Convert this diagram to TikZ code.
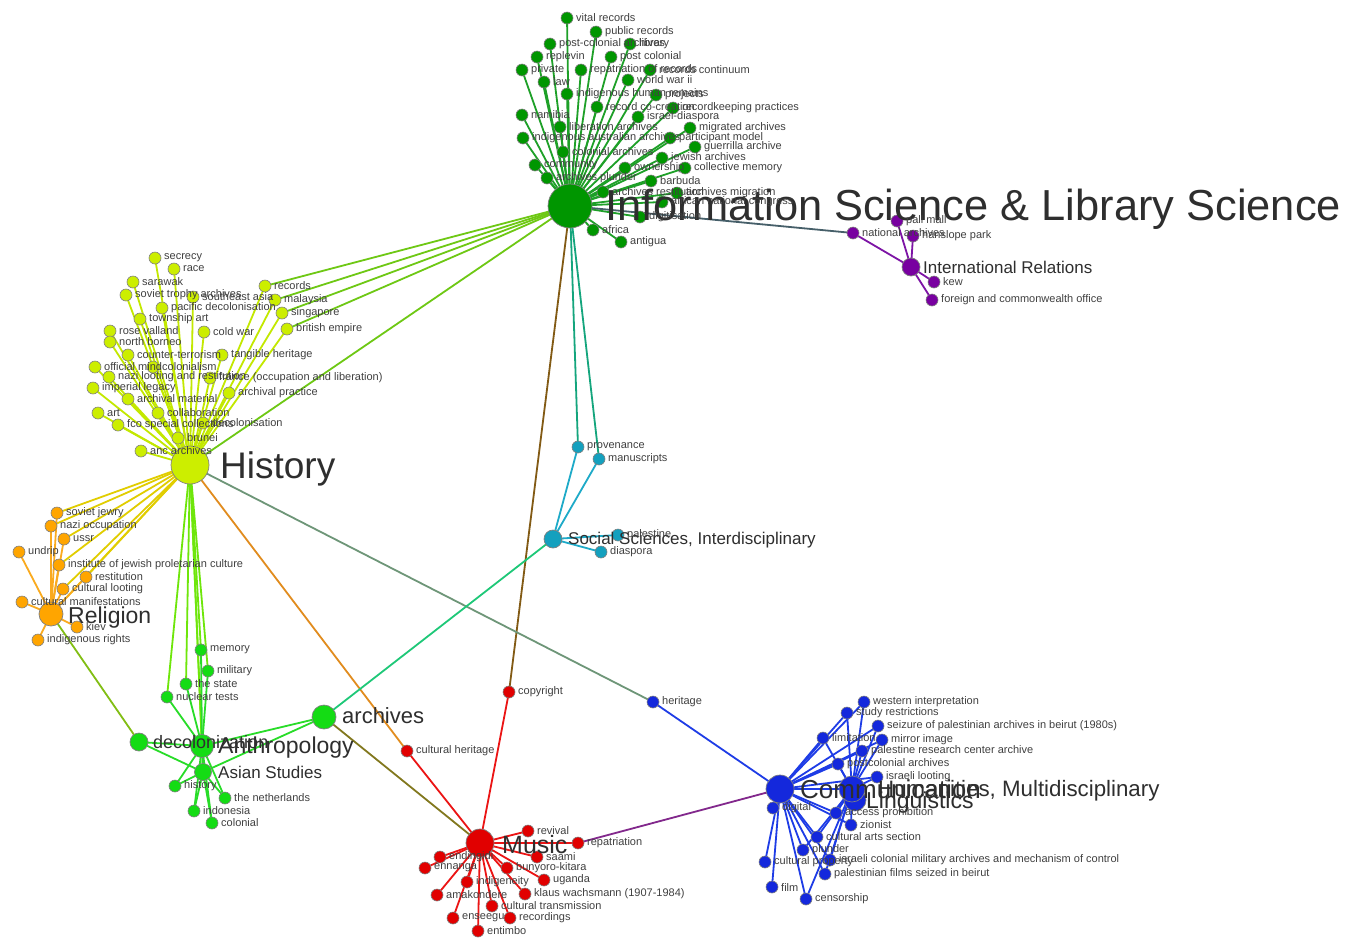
\documentclass[tikz,border=0pt]{standalone}
\usepackage{fontspec}
\setmainfont{Liberation Sans}
\definecolor{cIS}{RGB}{0,150,0}
\definecolor{cHi}{RGB}{204,238,0}
\definecolor{cRe}{RGB}{255,165,0}
\definecolor{cAn}{RGB}{20,220,20}
\definecolor{cMu}{RGB}{225,0,0}
\definecolor{cCo}{RGB}{20,40,220}
\definecolor{cSS}{RGB}{20,160,190}
\definecolor{cIR}{RGB}{120,0,160}
\definecolor{eIS}{RGB}{30,160,40}
\definecolor{eHi}{RGB}{195,232,0}
\definecolor{eRe}{RGB}{250,170,30}
\definecolor{eAn}{RGB}{40,220,40}
\definecolor{eMu}{RGB}{235,20,20}
\definecolor{eCo}{RGB}{30,60,230}
\definecolor{eSS}{RGB}{30,170,200}
\definecolor{eIR}{RGB}{125,20,165}
\definecolor{eISHi}{RGB}{110,200,20}
\definecolor{eISIR}{RGB}{70,95,105}
\definecolor{eISMu}{RGB}{130,90,20}
\definecolor{eISSS}{RGB}{20,165,125}
\definecolor{eHiRe}{RGB}{225,205,0}
\definecolor{eHiAn}{RGB}{110,230,10}
\definecolor{eHiMu}{RGB}{225,140,30}
\definecolor{eHiCo}{RGB}{110,150,120}
\definecolor{eReAn}{RGB}{130,190,20}
\definecolor{eAnSS}{RGB}{30,200,120}
\definecolor{eAnMu}{RGB}{130,120,30}
\definecolor{eMuCo}{RGB}{130,40,140}
\pgfdeclarelayer{bg}
\pgfdeclarelayer{edges}
\pgfdeclarelayer{labs}
\pgfsetlayers{bg,edges,main,labs}
\tikzset{
  kwn/.style={circle,minimum size=12pt,inner sep=0pt,draw=black!50,line width=0.6pt},
  kwl/.style={anchor=west,inner sep=0pt,text=black!75,font=\fontsize{11}{12}\selectfont},
  hubn/.style={circle,inner sep=0pt,draw=black!50,line width=0.7pt},
  hubl/.style={anchor=base west,inner sep=0pt,text=black!82},
  lnk/.style={line width=1.8pt}
}
\newcommand\kw[5]{\node[kwn,fill=#4] (#1) at (#2,#3) {};\begin{pgfonlayer}{labs}\node[kwl] (#1-t) at (#2+9,#3) {#5};\end{pgfonlayer}}
\newcommand\hub[9]{\node[hubn,minimum size=#4pt,fill=#5] (#1) at (#2,#3) {};\begin{pgfonlayer}{labs}\node[hubl,font=\fontsize{#8}{#8}\selectfont] (#1-t) at (#6,#7) {#9};\end{pgfonlayer}}
\begin{document}
\begin{tikzpicture}[x=1pt,y=-1pt]
\useasboundingbox (0,0) rectangle (1349,938);
\begin{pgfonlayer}{bg}\fill[white] (0,0) rectangle (1349,938);\end{pgfonlayer}
% ---------- hubs
\hub{IS}{570}{206}{44}{cIS}{605}{220}{43.4}{Information Science \& Library Science}
\hub{Hist}{190}{465}{38}{cHi}{220}{478}{37}{History}
\hub{Rel}{51}{614}{24}{cRe}{68}{623}{23}{Religion}
\hub{IRh}{911}{267}{18}{cIR}{923}{273}{17}{International Relations}
\hub{SS}{553}{539}{18}{cSS}{568}{544}{17}{Social Sciences, Interdisciplinary}
\hub{Arch}{324}{717}{24}{cAn}{342}{723}{22}{archives}
\hub{Deco}{139}{742}{18}{cAn}{153}{748}{18}{decolonization}
\hub{Anth}{202}{746}{23}{cAn}{218}{753}{23}{Anthropology}
\hub{Asia}{203}{772}{17}{cAn}{218}{778}{17}{Asian Studies}
\hub{Mus}{480}{843}{28}{cMu}{502}{853}{25}{Music}
\hub{Comm}{780}{789}{28}{cCo}{800}{798}{26}{Communication}
\hub{Ling}{855}{800}{22}{cCo}{866}{808}{23}{Linguistics}
\hub{Hum}{852}{789}{26}{cCo}{878}{796}{22.3}{Humanities, Multidisciplinary}
% ---------- information science cluster
\kw{vr}{567}{18}{cIS}{vital records}
\kw{pr}{596}{32}{cIS}{public records}
\kw{pca}{550}{44}{cIS}{post-colonial archives}
\kw{lib}{630}{44}{cIS}{library}
\kw{rep}{537}{57}{cIS}{replevin}
\kw{pc}{611}{57}{cIS}{post colonial}
\kw{pri}{522}{70}{cIS}{private}
\kw{ror}{581}{70}{cIS}{repatriation of records}
\kw{rc}{650}{70}{cIS}{records continuum}
\kw{law}{544}{82}{cIS}{law}
\kw{ww}{628}{80}{cIS}{world war ii}
\kw{ihr}{567}{94}{cIS}{indigenous human remains}
\kw{proj}{656}{95}{cIS}{projects}
\kw{rcc}{597}{107}{cIS}{record co-creation}
\kw{rkp}{673}{108}{cIS}{recordkeeping practices}
\kw{isd}{638}{117}{cIS}{israel-diaspora}
\kw{nam}{522}{115}{cIS}{namibia}
\kw{lia}{560}{127}{cIS}{liberation archives}
\kw{mig}{690}{128}{cIS}{migrated archives}
\kw{iaa}{523}{138}{cIS}{indigenous australian archives}
\kw{pm}{670}{138}{cIS}{participant model}
\kw{gue}{695}{147}{cIS}{guerrilla archive}
\kw{cola}{563}{152}{cIS}{colonial archives}
\kw{jew}{662}{158}{cIS}{jewish archives}
\kw{com}{535}{165}{cIS}{community}
\kw{own}{625}{168}{cIS}{ownership}
\kw{cm}{685}{168}{cIS}{collective memory}
\kw{apl}{547}{178}{cIS}{archives plunder}
\kw{bar}{651}{181}{cIS}{barbuda}
\kw{ares}{603}{192}{cIS}{archives restitution}
\kw{amig}{677}{193}{cIS}{archives migration}
\kw{anc2}{662}{202}{cIS}{african national congress}
\kw{dig2}{640}{217}{cIS}{digitisation}
\kw{afr}{593}{230}{cIS}{africa}
\kw{ant}{621}{242}{cIS}{antigua}
% ---------- history cluster
\kw{sec}{155}{258}{cHi}{secrecy}
\kw{race}{174}{269}{cHi}{race}
\kw{sar}{133}{282}{cHi}{sarawak}
\kw{sta}{126}{295}{cHi}{soviet trophy archives}
\kw{sea}{193}{297}{cHi}{southeast asia}
\kw{rec}{265}{286}{cHi}{records}
\kw{mal}{275}{300}{cHi}{malaysia}
\kw{pd}{162}{308}{cHi}{pacific decolonisation}
\kw{sin}{282}{313}{cHi}{singapore}
\kw{ta}{140}{319}{cHi}{township art}
\kw{be}{287}{329}{cHi}{british empire}
\kw{rv}{110}{331}{cHi}{rose valland}
\kw{cw}{204}{332}{cHi}{cold war}
\kw{nb}{110}{342}{cHi}{north borneo}
\kw{ct}{128}{355}{cHi}{counter-terrorism}
\kw{th}{222}{355}{cHi}{tangible heritage}
\kw{om}{95}{367}{cHi}{official mind}
\kw{col}{153}{367}{cHi}{colonialism}
\kw{nlr}{109}{377}{cHi}{nazi looting and restitution}
\kw{fol}{210}{378}{cHi}{france (occupation and liberation)}
\kw{il}{93}{388}{cHi}{imperial legacy}
\kw{ap}{229}{393}{cHi}{archival practice}
\kw{am}{128}{399}{cHi}{archival material}
\kw{art}{98}{413}{cHi}{art}
\kw{coll}{158}{413}{cHi}{collaboration}
\kw{fco}{118}{425}{cHi}{fco special collections}
\kw{deco}{203}{423}{cHi}{decolonisation}
\kw{bru}{178}{438}{cHi}{brunei}
\kw{anc}{141}{451}{cHi}{anc archives}
% ---------- religion cluster
\kw{sj}{57}{513}{cRe}{soviet jewry}
\kw{no}{51}{526}{cRe}{nazi occupation}
\kw{ussr}{64}{539}{cRe}{ussr}
\kw{und}{19}{552}{cRe}{undrip}
\kw{ijp}{59}{565}{cRe}{institute of jewish proletarian culture}
\kw{rest}{86}{577}{cRe}{restitution}
\kw{cl}{63}{589}{cRe}{cultural looting}
\kw{cman}{22}{602}{cRe}{cultural manifestations}
\kw{kiev}{77}{627}{cRe}{kiev}
\kw{ir}{38}{640}{cRe}{indigenous rights}
% ---------- anthropology cluster
\kw{mem}{201}{650}{cAn}{memory}
\kw{mil}{208}{671}{cAn}{military}
\kw{tst}{186}{684}{cAn}{the state}
\kw{nt}{167}{697}{cAn}{nuclear tests}
\kw{his}{175}{786}{cAn}{history}
\kw{net}{225}{798}{cAn}{the netherlands}
\kw{ind}{194}{811}{cAn}{indonesia}
\kw{colo}{212}{823}{cAn}{colonial}
% ---------- music cluster
\kw{cop}{509}{692}{cMu}{copyright}
\kw{ch}{407}{751}{cMu}{cultural heritage}
\kw{rev}{528}{831}{cMu}{revival}
\kw{repa}{578}{843}{cMu}{repatriation}
\kw{saa}{537}{857}{cMu}{saami}
\kw{endi}{440}{857}{cMu}{endingidi}
\kw{enn}{425}{868}{cMu}{ennanga}
\kw{bk}{507}{868}{cMu}{bunyoro-kitara}
\kw{indg}{467}{882}{cMu}{indigeneity}
\kw{uga}{544}{880}{cMu}{uganda}
\kw{ama}{437}{895}{cMu}{amakondere}
\kw{kw}{525}{894}{cMu}{klaus wachsmann (1907-1984)}
\kw{ctr}{492}{906}{cMu}{cultural transmission}
\kw{ens}{453}{918}{cMu}{enseegu}
\kw{recs}{510}{918}{cMu}{recordings}
\kw{ent}{478}{931}{cMu}{entimbo}
% ---------- communication cluster
\kw{her}{653}{702}{cCo}{heritage}
\kw{wi}{864}{702}{cCo}{western interpretation}
\kw{sr}{847}{713}{cCo}{study restrictions}
\kw{sz}{878}{726}{cCo}{seizure of palestinian archives in beirut (1980s)}
\kw{lim}{823}{738}{cCo}{limitation}
\kw{mi}{882}{740}{cCo}{mirror image}
\kw{prc}{862}{751}{cCo}{palestine research center archive}
\kw{pcb}{838}{764}{cCo}{postcolonial archives}
\kw{ilo}{877}{777}{cCo}{israeli looting}
\kw{dgt}{773}{808}{cCo}{digital}
\kw{acp}{836}{813}{cCo}{access prohibition}
\kw{zio}{851}{825}{cCo}{zionist}
\kw{cas}{817}{837}{cCo}{cultural arts section}
\kw{plu}{803}{850}{cCo}{plunder}
\kw{cpr}{765}{862}{cCo}{cultural property}
\kw{icm}{830}{860}{cCo}{israeli colonial military archives and mechanism of control}
\kw{pfs}{825}{874}{cCo}{palestinian films seized in beirut}
\kw{film}{772}{887}{cCo}{film}
\kw{cen}{806}{899}{cCo}{censorship}
% ---------- social sciences
\kw{prov}{578}{447}{cSS}{provenance}
\kw{man}{599}{459}{cSS}{manuscripts}
\kw{pal}{618}{535}{cSS}{palestine}
\kw{dia}{601}{552}{cSS}{diaspora}
% ---------- international relations
\kw{na}{853}{233}{cIR}{national archives}
\kw{pmall}{897}{221}{cIR}{pall mall}
\kw{hp}{913}{236}{cIR}{hanslope park}
\kw{kew}{934}{282}{cIR}{kew}
\kw{fcoo}{932}{300}{cIR}{foreign and commonwealth office}
% ---------- edges
\begin{pgfonlayer}{edges}
\foreach \n in {vr,pr,pca,lib,rep,pc,pri,ror,rc,law,ww,ihr,proj,rcc,rkp,isd,nam,lia,mig,iaa,pm,gue,cola,jew,com,own,cm,apl,bar,ares,amig,anc2,dig2,afr,ant}
  \draw[lnk,eIS] (IS.center) -- (\n.center);
\foreach \n in {rec,mal,sin,be,Hist} \draw[lnk,eISHi] (IS.center) -- (\n.center);
\draw[lnk,eISIR] (IS.center) -- (na.center);
\draw[lnk,eISMu] (IS.center) -- (cop.center);
\foreach \n in {prov,man} \draw[lnk,eISSS] (IS.center) -- (\n.center);
\foreach \n in {sec,race,sar,sta,sea,rec,mal,pd,sin,ta,be,rv,cw,nb,ct,th,om,col,nlr,fol,il,ap,am,art,coll,fco,deco,bru,anc}
  \draw[lnk,eHi] (Hist.center) -- (\n.center);
\foreach \n in {sj,no,ussr,ijp,rest,cl,Rel} \draw[lnk,eHiRe] (Hist.center) -- (\n.center);
\foreach \n in {mem,mil,tst,nt,Anth,Asia} \draw[lnk,eHiAn] (Hist.center) -- (\n.center);
\draw[lnk,eHiMu] (Hist.center) -- (ch.center);
\draw[lnk,eHiCo] (Hist.center) -- (her.center);
\foreach \n in {sj,no,ussr,und,ijp,rest,cl,cman,kiev,ir} \draw[lnk,eRe] (Rel.center) -- (\n.center);
\draw[lnk,eReAn] (Rel.center) -- (Deco.center);
\foreach \n in {mem,mil,tst,nt,Deco,his,net,ind,colo,Asia,Arch} \draw[lnk,eAn] (Anth.center) -- (\n.center);
\foreach \n in {Deco,Arch,his,net,ind,colo} \draw[lnk,eAn] (Asia.center) -- (\n.center);
\draw[lnk,eAnSS] (Arch.center) -- (SS.center);
\draw[lnk,eAnMu] (Arch.center) -- (Mus.center);
\foreach \n in {ch,cop,rev,repa,saa,endi,enn,bk,indg,uga,ama,kw,ctr,ens,recs,ent} \draw[lnk,eMu] (Mus.center) -- (\n.center);
\draw[lnk,eMuCo] (repa.center) -- (Comm.center);
\foreach \n in {her,wi,sr,sz,lim,mi,prc,pcb,ilo,Hum,dgt,acp,zio,cas,plu,cpr,icm,pfs,film,cen} \draw[lnk,eCo] (Comm.center) -- (\n.center);
\foreach \n in {wi,sr,sz,lim,mi,prc,pcb,ilo,acp,zio,cas,plu,pfs,cen,icm} \draw[lnk,eCo] (Hum.center) -- (\n.center);
\foreach \n in {prov,man,pal,dia} \draw[lnk,eSS] (SS.center) -- (\n.center);
\foreach \n in {na,pmall,hp,kew,fcoo} \draw[lnk,eIR] (IRh.center) -- (\n.center);
\end{pgfonlayer}
\end{tikzpicture}
\end{document}
